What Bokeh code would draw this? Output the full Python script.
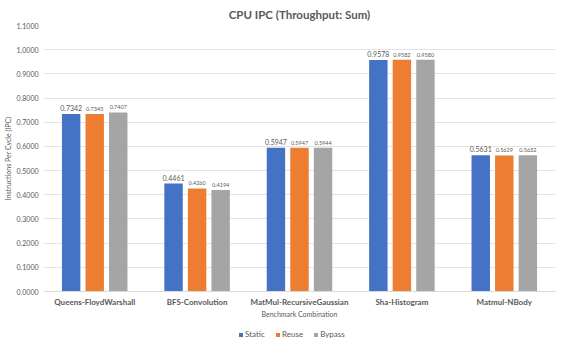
from bokeh.plotting import figure
from bokeh.layouts import column
from bokeh.models import (ColumnDataSource, FactorRange, Range1d, FixedTicker,
                          NumeralTickFormatter, Legend, LegendItem)
from bokeh.transform import dodge
from bokeh.core.properties import value
from bokeh.embed import file_html
from bokeh.resources import INLINE

categories = ["Queens-FloydWarshall", "BFS-Convolution", "MatMul-RecursiveGaussian",
              "Sha-Histogram", "Matmul-NBody"]
static = [0.7342, 0.4461, 0.5947, 0.9578, 0.5631]
reuse = [0.7345, 0.4260, 0.5947, 0.9582, 0.5629]
bypass = [0.7407, 0.4194, 0.5944, 0.9580, 0.5632]
series_names = ["Static", "Reuse", "Bypass"]
y_ticks = [0.0, 0.1, 0.2, 0.3, 0.4, 0.5, 0.6, 0.7, 0.8, 0.9, 1.0, 1.1]

colors = ["#4472C4", "#ED7D31", "#A5A5A5"]
FONT = "Lato"
TXT = "#595959"

src = ColumnDataSource(dict(
    cat=categories, Static=static, Reuse=reuse, Bypass=bypass,
    Static_l=[f"{v:.4f}" for v in static],
    Reuse_l=[f"{v:.4f}" for v in reuse],
    Bypass_l=[f"{v:.4f}" for v in bypass],
))

p = figure(width=566, height=320, output_backend="svg", toolbar_location=None,
           x_range=FactorRange(*categories), y_range=Range1d(0, 1.1),
           min_border_left=35, min_border_right=11, min_border_top=14, min_border_bottom=29)

p.title.text = "CPU IPC (Throughput: Sum)"
p.title.align = "center"
p.title.text_font = FONT
p.title.text_font_size = "11.5px"
p.title.text_font_style = "bold"
p.title.text_color = TXT
p.title.offset = 0

offsets = [-0.23, 0.0, 0.23]
for name, off, col in zip(series_names, offsets, colors):
    p.vbar(x=dodge("cat", off, range=p.x_range), top=name, width=0.18,
           source=src, fill_color=col, line_color=None)
    p.text(x=dodge("cat", off, range=p.x_range), y=name, text=name + "_l",
           source=src, text_align="center", text_baseline="bottom",
           y_offset=-3, text_font=value(FONT),
           text_font_size="7px" if name == "Static" else "5.5px",
           text_color=TXT)

p.yaxis.ticker = FixedTicker(ticks=y_ticks)
p.yaxis.formatter = NumeralTickFormatter(format="0.0000")
p.yaxis.axis_label = "Instructions Per Cycle (IPC)"
p.yaxis.axis_label_text_font = FONT
p.yaxis.axis_label_text_font_size = "7px"
p.yaxis.axis_label_text_font_style = "normal"
p.yaxis.axis_label_text_color = TXT
p.yaxis.axis_label_standoff = 2
p.yaxis.major_label_text_font = FONT
p.yaxis.major_label_text_font_size = "7px"
p.yaxis.major_label_text_color = TXT
p.yaxis.major_label_standoff = 5
p.yaxis.major_tick_out = 0
p.yaxis.major_tick_in = 0
p.yaxis.axis_line_color = None
p.yaxis.major_tick_line_color = None
p.yaxis.minor_tick_line_color = None

p.xaxis.axis_label = "Benchmark Combination"
p.xaxis.axis_label_text_font = FONT
p.xaxis.axis_label_text_font_size = "7px"
p.xaxis.axis_label_text_font_style = "normal"
p.xaxis.axis_label_text_color = TXT
p.xaxis.axis_label_standoff = 0
p.xaxis.major_label_text_font = FONT
p.xaxis.major_label_text_font_size = "8px"
p.xaxis.major_label_text_font_style = "bold"
p.xaxis.major_label_text_color = TXT
p.xaxis.major_label_standoff = 5
p.xaxis.major_tick_out = 0
p.xaxis.major_tick_in = 0
p.xaxis.axis_line_color = "#D9D9D9"
p.xaxis.major_tick_line_color = None
p.xaxis.minor_tick_line_color = None

p.xgrid.grid_line_color = None
p.ygrid.grid_line_color = "#E3E3E3"
p.outline_line_color = None

# legend strip below the chart (frame aligned with the chart's frame)
pl = figure(width=566, height=20, output_backend="svg", toolbar_location=None,
            x_range=Range1d(0, 1), y_range=Range1d(0, 1), min_border=0)
pl.axis.visible = False
pl.grid.visible = False
pl.outline_line_color = None
items = []
for name, col in zip(series_names, colors):
    r = pl.rect(x=[-5], y=[-5], width=1, height=1, fill_color=col, line_color=None)
    items.append(LegendItem(label=name, renderers=[r]))
legend = Legend(items=items, orientation="horizontal", location=(195, 1))
legend.label_text_font = FONT
legend.label_text_font_size = "8px"
legend.label_text_color = TXT
legend.label_height = 8
legend.glyph_width = 5
legend.glyph_height = 5
legend.label_standoff = 2
legend.spacing = 10
legend.padding = 0
legend.margin = 0
legend.border_line_color = None
legend.background_fill_alpha = 0
pl.add_layout(legend)

layout = column(p, pl, spacing=0)
open("out.html", "w").write(file_html(layout, INLINE))
